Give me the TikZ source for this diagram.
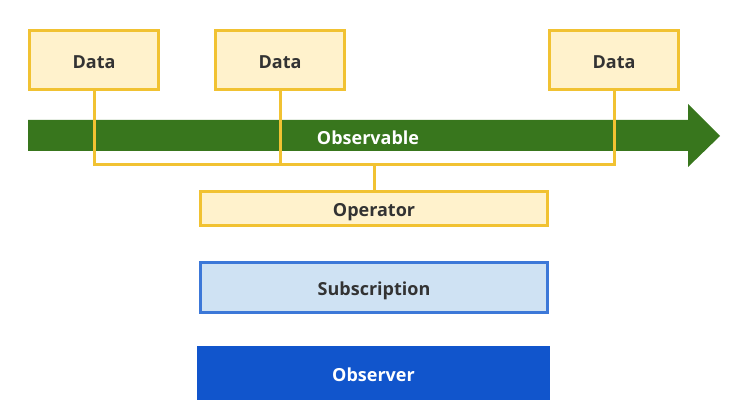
\documentclass[tikz,border=0pt]{standalone}
\usepackage{fontspec}
\setmainfont{Open Sans}
\usepackage{tikz}
\usetikzlibrary{calc}

\definecolor{datafill}{HTML}{FFF2CC}
\definecolor{dataline}{HTML}{F1C232}
\definecolor{obsgreen}{HTML}{38761D}
\definecolor{subfill}{HTML}{CFE2F3}
\definecolor{subline}{HTML}{3C78D8}
\definecolor{obsblue}{HTML}{1155CC}
\definecolor{textgray}{HTML}{333333}

\begin{document}
\begin{tikzpicture}[x=0.75pt, y=-0.75pt,
    label font/.style={font=\bfseries\fontsize{13.5}{15}\selectfont, text height=12.5pt, text depth=0pt},
    databox/.style={draw=dataline, fill=datafill, line width=2.25pt, minimum width=96.75pt, minimum height=44.25pt, inner sep=0pt, label font, text=textgray},
    widebox/.style={line width=2.25pt, minimum width=260pt, inner sep=0pt, label font},
    wire/.style={draw=dataline, line width=2.25pt}]
    \useasboundingbox (0,0) rectangle (741,420);

    % Coordinates
    \coordinate (A) at (94,60);
    \coordinate (B) at (280,60);
    \coordinate (C) at (614,60);
    \coordinate (tip) at (720,136);

    % Observable
    \fill[obsgreen] (28,120) -- (688,120) -- (688,104) -- (tip) -- (688,167) -- (688,151) -- (28,151) -- cycle;
    % Text
    \node[label font, inner sep=0pt, text=white] (obs) at (368,136) {Observable};

    % Data
    \node[databox] (d1) at (A) {Data};
    \node[databox] (d2) at (B) {Data};
    \node[databox] (d3) at (C) {Data};

    % Operator, Subscription, Observer
    \node[widebox, draw=dataline, fill=datafill, minimum height=25.5pt, text=textgray] (op) at (374,208.5) {Operator};
    \node[widebox, draw=subline, fill=subfill, minimum height=37.5pt, text=textgray] (sub) at (374,287.5) {Subscription};
    \node[widebox, fill=obsblue, line width=0pt, minimum width=264.75pt, minimum height=40.5pt, text=white] (obr) at (373.5,373) {Observer};

    % Lines
    \coordinate (bus) at ($(op.north)+(0,-25)$);
    \draw[wire] (d1.south) |- (bus);
    \draw[wire] (d3.south) |- (bus);
    \draw[wire] (d2.south) -- (d2.south |- bus);
    \draw[wire] (bus) -- (op.north);
\end{tikzpicture}
\end{document}
